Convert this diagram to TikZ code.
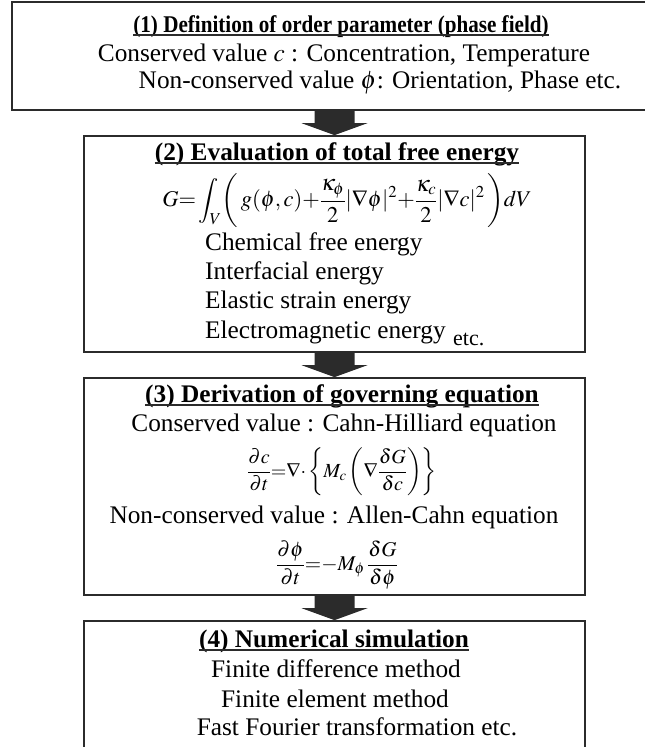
\documentclass[tikz,border=0pt]{standalone}
\usepackage{graphicx}
\usepackage{mathptmx}
\usepackage[no-math]{fontspec}
\setmainfont{Liberation Serif}
\definecolor{framec}{HTML}{2B2B2B}
\newcommand{\flowarrow}[2]{%
  \fill[framec] ([xshift=-20pt]#2.north |- #1.south) -- ([xshift=20pt]#2.north |- #1.south)
    -- ([xshift=20pt,yshift=12pt]#2.north) -- ([xshift=33pt,yshift=12pt]#2.north) -- (#2.north)
    -- ([xshift=-33pt,yshift=12pt]#2.north) -- ([xshift=-20pt,yshift=12pt]#2.north) -- cycle;}

\begin{document}
\begin{tikzpicture}[x=1pt, y=-1pt, font=\fontsize{25.3}{29}\selectfont,
  stage/.style={draw=framec, line width=1.7pt, minimum width=501pt, inner sep=0pt},
  txt/.style={anchor=base, inner sep=0pt},
  ltxt/.style={anchor=base west, inner sep=0pt},
  head/.style={txt, font=\fontsize{25.3}{29}\selectfont\bfseries},
  eqn/.style={inner sep=0pt, font=\fontsize{20}{24}\selectfont}]
  \useasboundingbox (0,0) rectangle (645,747);
  \node[stage, minimum width=648pt, minimum height=108pt] (s1) at (336,56) {};
  \node[stage, minimum height=216pt] (s2) at (334.5,244) {};
  \node[stage, minimum height=217pt] (s3) at (334.5,486.5) {};
  \node[stage, minimum height=139pt] (s4) at (334.5,690.5) {};
  \flowarrow{s1}{s2}
  \flowarrow{s2}{s3}
  \flowarrow{s3}{s4}
  % (1)
  \node[head, font=\fontsize{24}{28}\selectfont\bfseries] (t1) at (341,32)
    {\scalebox{0.88}[1]{(1) Definition of order parameter (phase field)}};
  \node[txt] (c1) at (344,61) {Conserved value $c$ : Concentration, Temperature};
  \node[txt] (n1) at (380,88) {Non-conserved value $\phi$: Orientation, Phase etc.};
  % (2)
  \node[head] (t2) at (337,160) {(2) Evaluation of total free energy};
  \node[eqn, font=\fontsize{22.5}{26}\selectfont] (geq) at (347,201)
    {$\displaystyle G{=}\int_V\biggl(\,g(\phi,c){+}\frac{\kappa_\phi}{2}|\nabla\phi|^2{+}\frac{\kappa_c}{2}|\nabla c|^2\,\biggr)dV$};
  \node[ltxt] (e1) at (205,250) {Chemical free energy};
  \node[ltxt] (e2) at (205,279) {Interfacial energy};
  \node[ltxt] (e3) at (205,308) {Elastic strain energy};
  \node[ltxt] (e4) at (205,338) {Electromagnetic energy};
  \node[ltxt, font=\fontsize{22}{25}\selectfont] (etc2) at (453,345) {etc.};
  % (3)
  \node[head] (t3) at (342,402) {(3) Derivation of governing equation};
  \node[txt] (ch) at (344,431) {Conserved value : Cahn-Hilliard equation};
  \node[eqn] (cheq) at (342,472)
    {$\displaystyle\frac{\partial c}{\partial t}{=}\nabla{\cdot}\left\{M_c\left(\nabla\frac{\delta G}{\delta c}\right)\right\}$};
  \node[txt] (ac) at (334,523) {Non-conserved value : Allen-Cahn equation};
  \node[eqn, font=\fontsize{21}{25}\selectfont] (aceq) at (337,565)
    {$\displaystyle\frac{\partial\phi}{\partial t}{=}{-}M_\phi\,\frac{\delta G}{\delta\phi}$};
  % (4)
  \node[head] (t4) at (334,647) {(4) Numerical simulation};
  \node[txt] (f1) at (336,677) {Finite difference method};
  \node[txt] (f2) at (335,707) {Finite element method};
  \node[txt] (f3) at (357,735) {Fast Fourier transformation etc.};
  \foreach \t in {t1,t2,t3,t4}
    \draw[framec, line width=1.2pt] ([yshift=-3pt]\t.base west) -- ([yshift=-3pt]\t.base east);
\end{tikzpicture}
\end{document}
